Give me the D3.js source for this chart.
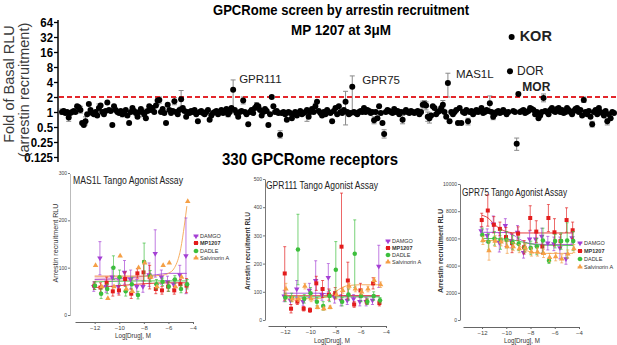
<!DOCTYPE html>
<html><head><meta charset="utf-8">
<script src="https://cdn.jsdelivr.net/npm/d3@7"></script>
<style>
body{margin:0;background:#fff;}
svg{display:block;font-family:"Liberation Sans",Arial,sans-serif;}
</style></head>
<body><svg id="c" width="617" height="345"></svg>
<script>
// ---------- Top screen data ----------
const topTitle = "GPCRome screen by arrestin recruitment";
const topSubtitle = "MP 1207 at 3\u03bcM";
const topXLabel = "330 GPCRome receptors";
const topYLabel1 = "Fold of Basal RLU";
const topYLabel2 = "(arrestin recruitment)";
const topTicks = [0.125,0.25,0.5,1,2,4,8,16,32,64];
const foldValues = [
 1.0,1.05,0.95,1.0,0.78,0.95,1.0,1.05,1.0,1.3,1.25,1.1,0.6,0.55,0.65,0.9,1.45,1.1,0.95,0.9,1.0,0.85,1.2,1.35,1.0,0.9,1.05,1.55,1.1,1.05,
 0.55,1.3,1.1,1.0,0.95,1.05,0.9,1.0,1.1,0.85,0.6,1.0,1.2,1.05,0.95,0.8,1.0,1.15,1.0,0.9,0.75,1.05,1.3,1.1,1.2,1.0,1.35,1.7,1.75,1.0,
 1.15,0.95,0.6,1.4,1.1,0.95,1.05,1.65,1.0,0.9,1.1,1.8,1.2,1.05,0.8,1.0,0.95,1.05,1.0,1.1,0.9,0.65,1.0,1.05,0.95,0.9,1.0,1.1,0.7,0.85,
 0.95,1.0,1.05,0.9,1.0,1.1,0.95,1.0,1.15,0.9,1.0,1.2,2.8,1.1,0.95,0.8,1.0,1.05,1.7,1.0,0.9,0.57,1.0,1.1,0.95,1.2,1.35,1.3,1.1,0.85,
 1.0,1.15,1.05,0.55,0.9,2.0,1.3,1.0,1.05,0.95,0.35,0.95,1.0,0.9,0.7,1.0,0.95,0.75,0.9,1.0,0.85,0.95,1.05,0.9,0.95,1.0,1.1,0.8,1.0,1.15,
 1.0,1.3,1.6,1.05,0.95,0.85,1.0,0.9,1.1,1.0,0.95,0.65,1.05,1.2,0.9,1.3,1.0,0.95,1.1,1.6,1.0,0.9,0.95,3.2,1.0,0.95,0.9,1.0,1.05,1.0,
 1.2,1.0,1.1,1.05,0.95,1.0,0.68,1.0,0.75,1.3,0.95,0.6,0.36,1.0,1.1,1.05,1.0,0.95,1.15,1.0,1.05,0.9,1.0,0.7,1.0,1.1,1.0,0.95,1.05,1.0,
 0.95,1.0,1.05,0.9,1.0,1.4,1.45,1.35,0.8,0.75,0.85,1.3,1.2,0.9,1.0,1.05,1.2,1.4,1.0,0.8,3.8,0.65,1.0,0.9,1.0,1.1,0.6,1.2,0.6,1.0,
 0.95,1.1,0.65,1.0,1.05,0.9,1.0,1.1,1.0,1.05,1.2,0.95,1.0,1.1,1.05,1.5,1.0,0.8,0.9,1.0,1.05,0.95,1.0,1.1,1.0,0.9,1.0,6.6,32,1.05,
 1.0,0.23,2.3,1.0,1.05,1.1,0.95,1.0,1.05,1.2,1.15,1.1,0.9,1.0,0.75,0.85,1.0,1.9,1.05,1.0,0.9,1.1,1.2,1.05,1.0,1.15,1.2,1.0,1.1,0.95,
 1.0,1.2,1.1,1.0,0.9,1.05,1.15,1.2,1.0,1.1,0.85,1.75,1.0,0.9,1.05,0.8,0.57,1.0,1.1,0.9,1.2,1.0,0.95,0.85,1.05,0.65,0.9,0.75,1.0,0.95
];
// [receptor index, low, high]
const foldErrors = [
 [0,0.9,1.15],[4,0.65,0.95],[11,0.95,1.3],[14,0.55,0.8],[22,1.0,1.45],[36,0.8,1.05],[48,0.8,1.15],
 [57,1.4,2.0],[58,1.5,2.0],[67,1.4,1.95],[71,1.3,2.7],[99,0.8,1.1],[102,1.0,4.4],[108,1.45,2.0],
 [116,1.1,1.55],[130,0.3,0.42],[146,0.65,0.95],[151,1.1,1.5],[169,0.55,2.6],[173,1.0,5.3],
 [186,0.58,0.8],[192,0.3,0.44],[203,0.58,0.85],[215,1.2,1.65],[216,1.25,1.7],[217,1.1,1.6],
 [218,0.65,1.0],[219,0.6,0.95],[227,1.2,1.7],[230,2.0,6.0],[242,0.55,0.75],[255,1.1,2.1],
 [257,0.7,0.95],[271,0.17,0.3],[287,1.6,2.3],[300,0.9,1.15],[311,1.55,2.0],[316,0.5,0.65],[325,0.55,0.75]
];
const annotations = [
 {name:"GPR111", idx:102}, {name:"GPR75", idx:173}, {name:"MAS1L", idx:230},
 {name:"KOR", idx:268}, {name:"DOR", idx:267}, {name:"MOR", idx:272}
];
const threshold = 2;

// ---------- Tango assay panels ----------
const doses = [-12,-11.5,-11,-10.5,-10,-9.5,-9,-8.5,-8,-7.5,-7,-6.5,-6,-5.5,-5,-4.5];
const seriesNames = ["DAMGO","MP1207","DADLE","Salvinorin A"];
const xTickValues = [-12,-10,-8,-6,-4];

const mas1lTitle = "MAS1L Tango Agonist Assay";
const mas1lYTicks = [0,100,200,300];
const mas1lDAMGO = [60,120,60,80,60,90,75,60,60,85,130,80,70,65,85,125];
const mas1lMP1207 = [62,58,68,50,52,76,45,88,90,80,55,52,60,52,65,62];
const mas1lDADLE = [62,45,55,100,80,50,65,42,112,82,65,70,60,75,55,65];
const mas1lSalv = [105,60,35,60,125,55,50,100,110,80,60,105,110,60,80,240];
const mas1lErrDAMGO = [10,35,12,20,15,25,20,15,12,25,50,15,12,10,20,80];
const mas1lErrMP1207 = [8,10,12,10,10,15,10,10,25,25,10,8,10,8,10,15];
const mas1lErrDADLE = [8,10,10,25,15,10,15,8,40,12,10,8,10,8,8,10];
const mas1lErrSalv = [0,0,0,0,0,0,0,0,0,0,0,0,0,0,0,0];
const mas1lFitDAMGO = [[-12,75],[-10,77],[-8,82],[-7,85],[-6,88],[-4.5,88]];
const mas1lFitMP1207 = [[-12,58],[-10,62],[-8,66],[-6,68],[-4.5,68]];
const mas1lFitDADLE = [[-12,70],[-8,72],[-6,72],[-4.5,72]];
const mas1lFitSalv = [[-12,82],[-8,82],[-6.5,84],[-6,88],[-5.5,100],[-5,140],[-4.7,190],[-4.5,230]];
const mas1lBand = [[-12,72,84],[-8,72,84]];

const gpr111Title = "GPR111 Tango Agonist Assay";
const gpr111YTicks = [0,100,200,300,400,500];
const gpr111DAMGO = [85,70,110,65,105,140,90,150,80,70,70,75,65,65,70,190];
const gpr111MP1207 = [165,40,65,40,35,130,110,90,95,260,140,55,105,65,130,60];
const gpr111DADLE = [80,80,250,75,95,65,50,85,178,65,90,235,85,65,85,70];
const gpr111Salv = [110,75,75,120,75,45,40,45,90,105,120,110,100,110,140,125];
const gpr111ErrDAMGO = [20,15,30,15,25,70,20,50,20,20,15,15,15,15,15,75];
const gpr111ErrMP1207 = [95,15,10,8,8,25,30,20,20,190,65,10,25,10,20,10];
const gpr111ErrDADLE = [15,15,125,15,20,15,15,20,100,15,20,120,20,10,15,10];
const gpr111ErrSalv = [20,10,10,10,10,5,5,5,15,10,10,10,10,10,10,10];
const gpr111FitDAMGO = [[-12,95],[-9,95],[-8.5,90],[-8,86],[-6,85],[-4.5,85]];
const gpr111FitMP1207 = [[-12,86],[-4.5,86]];
const gpr111FitDADLE = [[-12,82],[-4.5,82]];
const gpr111FitSalv = [[-12,75],[-9.5,76],[-8.5,85],[-8,100],[-7.5,115],[-7,122],[-6,125],[-4.5,125]];

const gpr75Title = "GPR75 Tango Agonist Assay";
const gpr75YTicks = [0,2000,4000,6000,8000,10000];
const gpr75DAMGO = [6550,6200,7050,5700,6950,5800,6450,4950,5950,5950,6150,5650,5600,5300,4500,6050];
const gpr75MP1207 = [7350,8050,7000,6700,6100,5650,6350,5350,7500,6500,5400,7500,6450,5800,7350,6600];
const gpr75DADLE = [6250,5750,6000,5900,5900,5700,5600,5300,5300,5400,5850,4350,5800,5800,5850,5800];
const gpr75Salv = [5850,5100,5800,5750,5400,5400,5250,5300,5000,5000,4900,4600,4650,4500,4850,5250];
const gpr75ErrDAMGO = [300,500,600,700,500,500,500,400,600,500,600,500,500,800,400,400];
const gpr75ErrMP1207 = [500,1150,600,500,700,700,500,500,900,800,500,1000,1000,500,900,600];
const gpr75ErrDADLE = [500,600,500,700,600,500,500,300,500,600,900,200,500,600,1300,700];
const gpr75ErrSalv = [300,700,400,300,500,300,300,300,300,300,300,300,300,300,300,300];
const gpr75FitDAMGO = [[-12,6450],[-10,6430],[-9.5,6300],[-9,6000],[-8.5,5750],[-8,5620],[-7,5560],[-4.5,5550]];
const gpr75FitMP1207 = [[-12,7700],[-11.5,7500],[-11,7050],[-10.5,6700],[-10,6500],[-9.5,6420],[-9,6400],[-4.5,6400]];
const gpr75FitDADLE = [[-12,6000],[-10,5950],[-9,5800],[-8,5600],[-7,5500],[-4.5,5480]];
const gpr75FitSalv = [[-12,5850],[-10,5800],[-9,5500],[-8.5,5200],[-8,5000],[-7,4900],[-4.5,4900]];

// ---------- drawing ----------
const svg = d3.select("#c");
const FONT = '"Liberation Sans",Arial,sans-serif';

// Top chart
const xTop = d3.scaleLinear().domain([0, foldValues.length-1]).range([62, 614]);
const yTop = d3.scaleLog().base(2).domain([0.125, 64]).range([157, 22]);

svg.append("text").attr("x",341).attr("y",15).attr("text-anchor","middle")
  .attr("font-size",15).attr("font-weight","bold").attr("textLength",256).attr("lengthAdjust","spacingAndGlyphs")
  .text(topTitle);
svg.append("text").attr("x",341).attr("y",35).attr("text-anchor","middle")
  .attr("font-size",15).attr("font-weight","bold").attr("textLength",100).attr("lengthAdjust","spacingAndGlyphs")
  .text(topSubtitle);

const yAx = svg.append("g").attr("transform","translate(58,0)")
  .call(d3.axisLeft(yTop).tickValues(topTicks).tickFormat(d=>String(d)).tickSize(4).tickSizeOuter(0));
yAx.select(".domain").attr("stroke","#000").attr("stroke-width",1.5).attr("d","M0,20V162");
yAx.selectAll(".tick line").attr("stroke","#000").attr("stroke-width",1.3);
yAx.selectAll(".tick text").attr("font-size",13).attr("font-weight","bold").attr("font-family",FONT)
  .attr("x",-5).attr("fill","#000").attr("textLength",function(){return this.getComputedTextLength()*0.88;})
  .attr("lengthAdjust","spacingAndGlyphs");

svg.append("text").attr("transform","translate(14,84) rotate(-90)").attr("text-anchor","middle")
  .attr("font-size",14.5).attr("fill","#3a3a3a").text(topYLabel1);
svg.append("text").attr("transform","translate(29,90) rotate(-90)").attr("text-anchor","middle")
  .attr("font-size",14.5).attr("fill","#3a3a3a").text(topYLabel2);

// error bars
const eg = svg.append("g").attr("stroke","#8a8a8a").attr("stroke-width",1);
foldErrors.forEach(([i,lo,hi])=>{
  const x = xTop(i);
  eg.append("line").attr("x1",x).attr("x2",x).attr("y1",yTop(lo)).attr("y2",yTop(hi));
  eg.append("line").attr("x1",x-2.5).attr("x2",x+2.5).attr("y1",yTop(lo)).attr("y2",yTop(lo));
  eg.append("line").attr("x1",x-2.5).attr("x2",x+2.5).attr("y1",yTop(hi)).attr("y2",yTop(hi));
});
// threshold
svg.append("line").attr("x1",59).attr("x2",617).attr("y1",yTop(threshold)).attr("y2",yTop(threshold))
  .attr("stroke","#e3262b").attr("stroke-width",2).attr("stroke-dasharray","5,3");
// dots
svg.append("g").selectAll("circle").data(foldValues).join("circle")
  .attr("cx",(d,i)=>xTop(i)).attr("cy",d=>yTop(d)).attr("r",3).attr("fill","#000");

// annotations
const annStyle = {
  GPR111:{dx:6,dy:-7,fs:11.5,fw:"normal"}, GPR75:{dx:10,dy:-3,fs:11.5,fw:"normal"},
  MAS1L:{dx:8,dy:-5,fs:11.5,fw:"normal"}, KOR:{dx:8,dy:4,fs:14.5,fw:"bold"},
  DOR:{dx:7,dy:4,fs:12,fw:"normal"}, MOR:{dx:4,dy:-3,fs:12,fw:"bold"}
};
annotations.forEach(a=>{
  const s = annStyle[a.name];
  svg.append("text").attr("x",xTop(a.idx)+s.dx).attr("y",yTop(foldValues[a.idx])+s.dy)
    .attr("font-size",s.fs).attr("font-weight",s.fw).attr("fill","#222").text(a.name);
});
svg.append("text").attr("x",310).attr("y",165).attr("text-anchor","middle")
  .attr("font-size",17).attr("font-weight","bold").attr("textLength",176).attr("lengthAdjust","spacingAndGlyphs")
  .text(topXLabel);

// Panels
const colors = ["#a43fd4","#e31c1c","#3cbf3c","#f5a046"];
const symbols = [
  d3.symbol().type(d3.symbolTriangle).size(13),
  d3.symbol().type(d3.symbolSquare).size(16),
  d3.symbol().type(d3.symbolCircle).size(16),
  d3.symbol().type(d3.symbolTriangle).size(13)
];
const symRot = [180,0,0,0];

function panel(cfg){
  const x = d3.scaleLinear().domain(cfg.xDomain).range(cfg.xRange);
  const y = d3.scaleLinear().domain([0, cfg.yTicks[cfg.yTicks.length-1]]).range(cfg.yRange);
  const g = svg.append("g");
  // y axis
  const ya = g.append("g").attr("transform",`translate(${cfg.yAxisX},0)`)
    .call(d3.axisLeft(y).tickValues(cfg.yTicks).tickFormat(d3.format("d")).tickSize(2).tickSizeOuter(0));
  ya.select(".domain").attr("stroke","#777").attr("stroke-dasharray",cfg.dotted?"1,1":null);
  ya.selectAll(".tick line").attr("stroke","#777");
  ya.selectAll(".tick text").attr("font-size",5).attr("fill","#444").attr("font-family",FONT).attr("x",-3);
  // x axis
  const xa = g.append("g").attr("transform",`translate(0,${cfg.xAxisY})`)
    .call(d3.axisBottom(x).tickValues(xTickValues).tickSize(2).tickSizeOuter(0));
  xa.select(".domain").attr("stroke","#666");
  xa.selectAll(".tick line").attr("stroke","#666");
  xa.selectAll(".tick text").attr("font-size",6).attr("fill","#444").attr("font-family",FONT).attr("y",4);
  // labels
  g.append("text").attr("x",cfg.titleX).attr("y",cfg.titleY).attr("font-size",10).attr("fill","#222")
    .attr("textLength",cfg.titleW).attr("lengthAdjust","spacingAndGlyphs").text(cfg.title);
  g.append("text").attr("transform",`translate(${cfg.yLabX},${cfg.yLabY}) rotate(-90)`).attr("text-anchor","middle")
    .attr("font-size",7).attr("font-weight",cfg.yLabBold?"bold":"normal").attr("fill","#333")
    .attr("textLength",cfg.yLabW).attr("lengthAdjust","spacingAndGlyphs").text("Arrestin recruitment RLU");
  g.append("text").attr("x",cfg.xLabX).attr("y",cfg.xLabY).attr("text-anchor","middle").attr("font-size",7)
    .attr("fill","#333").attr("textLength",36).attr("lengthAdjust","spacingAndGlyphs").text("Log[Drug], M");
  // band
  if(cfg.band){
    g.append("path").datum(cfg.band).attr("fill","#f6c9d4").attr("opacity",0.8)
      .attr("d",d3.area().x(d=>x(d[0])).y0(d=>y(d[1])).y1(d=>y(d[2])));
  }
  // fits
  cfg.fits.forEach((f,si)=>{
    g.append("path").datum(f).attr("fill","none").attr("stroke",colors[si]).attr("stroke-width",1)
      .attr("opacity",0.85).attr("d",d3.line().x(d=>x(d[0])).y(d=>y(d[1])).curve(d3.curveMonotoneX));
  });
  // points & errors
  cfg.values.forEach((vals,si)=>{
    const errs = cfg.errs[si];
    const off = (si-1.5)*0.6;
    vals.forEach((v,i)=>{
      const px = x(doses[i])+off;
      const e = errs[i];
      if(e>0){
        g.append("line").attr("x1",px).attr("x2",px).attr("y1",y(v-e)).attr("y2",y(v+e))
          .attr("stroke",colors[si]).attr("stroke-width",0.8).attr("opacity",0.85);
        [v-e,v+e].forEach(b=>g.append("line").attr("x1",px-1.5).attr("x2",px+1.5).attr("y1",y(b)).attr("y2",y(b))
          .attr("stroke",colors[si]).attr("stroke-width",0.8).attr("opacity",0.85));
      }
      g.append("path").attr("d",symbols[si]())
        .attr("transform",`translate(${px},${y(v)}) rotate(${symRot[si]})`).attr("fill",colors[si]);
    });
  });
  // legend
  seriesNames.forEach((n,si)=>{
    const ly = cfg.legY[si];
    g.append("path").attr("d",symbols[si]()).attr("transform",`translate(${cfg.legX},${ly}) rotate(${symRot[si]})`)
      .attr("fill",colors[si]);
    g.append("line").attr("x1",cfg.legX-2.5).attr("x2",cfg.legX+2.5).attr("y1",ly).attr("y2",ly).attr("stroke",colors[si]).attr("stroke-width",0.8);
    g.append("text").attr("x",cfg.legX+4).attr("y",ly+2).attr("font-size",5.5)
      .attr("font-weight",si===1?"bold":"normal").attr("fill","#333").text(n);
  });
}

panel({
  title:mas1lTitle, titleX:73, titleY:184, titleW:110,
  yTicks:mas1lYTicks, yRange:[315,173], yAxisX:70, dotted:true,
  xDomain:[-13.6,-4], xRange:[75,193], xAxisY:322,
  yLabX:58, yLabY:243, yLabW:79, yLabBold:false,
  xLabX:133, xLabY:338,
  values:[mas1lDAMGO,mas1lMP1207,mas1lDADLE,mas1lSalv],
  errs:[mas1lErrDAMGO,mas1lErrMP1207,mas1lErrDADLE,mas1lErrSalv],
  fits:[mas1lFitDAMGO,mas1lFitMP1207,mas1lFitDADLE,mas1lFitSalv],
  band:mas1lBand, legX:196, legY:[236,243,251,258]
});
panel({
  title:gpr111Title, titleX:266, titleY:189, titleW:112,
  yTicks:gpr111YTicks, yRange:[320,179], yAxisX:265, dotted:false,
  xDomain:[-13.35,-4], xRange:[268,386], xAxisY:326,
  yLabX:250, yLabY:251, yLabW:78, yLabBold:true,
  xLabX:332, xLabY:343,
  values:[gpr111DAMGO,gpr111MP1207,gpr111DADLE,gpr111Salv],
  errs:[gpr111ErrDAMGO,gpr111ErrMP1207,gpr111ErrDADLE,gpr111ErrSalv],
  fits:[gpr111FitDAMGO,gpr111FitMP1207,gpr111FitDADLE,gpr111FitSalv],
  band:null, legX:388, legY:[241,248,255,262]
});
panel({
  title:gpr75Title, titleX:462, titleY:196, titleW:105,
  yTicks:gpr75YTicks, yRange:[320,184], yAxisX:460, dotted:false,
  xDomain:[-13.57,-4], xRange:[463,579], xAxisY:327,
  yLabX:443, yLabY:251, yLabW:84, yLabBold:true,
  xLabX:522, xLabY:343,
  values:[gpr75DAMGO,gpr75MP1207,gpr75DADLE,gpr75Salv],
  errs:[gpr75ErrDAMGO,gpr75ErrMP1207,gpr75ErrDADLE,gpr75ErrSalv],
  fits:[gpr75FitDAMGO,gpr75FitMP1207,gpr75FitDADLE,gpr75FitSalv],
  band:null, legX:580, legY:[243,251,259,267]
});
</script></body></html>
